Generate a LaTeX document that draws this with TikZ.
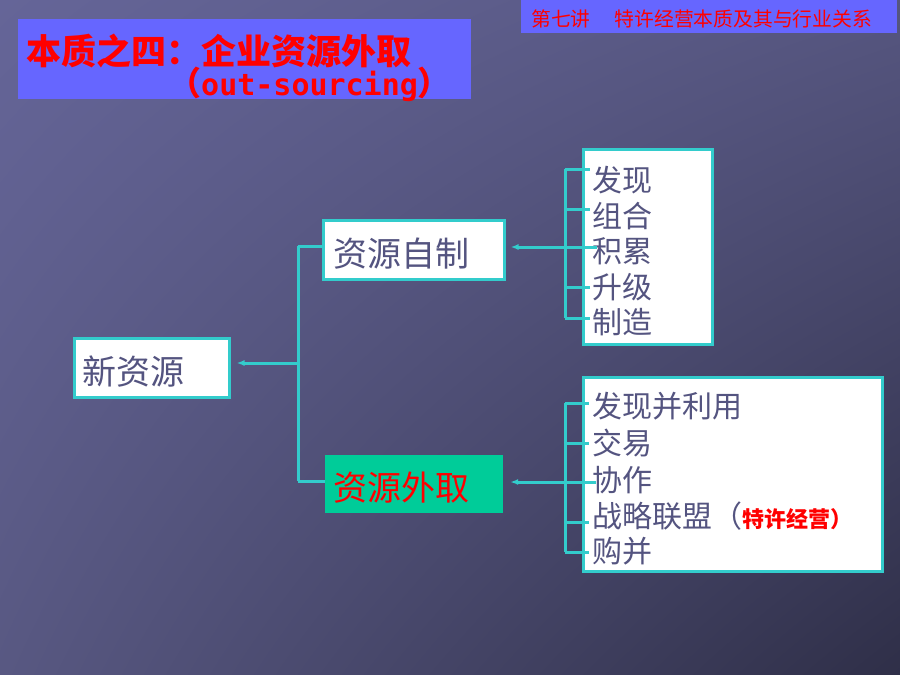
\documentclass[tikz,border=0pt]{standalone}
\usepackage{fontspec}
\newfontfamily\cjk{Noto Sans CJK SC}
\newfontfamily\mono{DejaVu Sans Mono}
\usetikzlibrary{arrows.meta,shadings}
\definecolor{bgTL}{RGB}{101,101,152}
\definecolor{bgTR}{RGB}{86,86,128}
\definecolor{bgBL}{RGB}{88,88,130}
\definecolor{bgBR}{RGB}{47,47,72}
\definecolor{titlebg}{RGB}{102,102,255}
\definecolor{teal}{RGB}{51,204,204}
\definecolor{slate}{RGB}{84,84,128}
\definecolor{greenbox}{RGB}{0,204,153}
\definecolor{redtxt}{RGB}{255,0,0}
\tikzset{
  whitebox/.style={draw=teal, line width=3pt, fill=white, inner sep=0pt},
  greenrect/.style={fill=greenbox, inner sep=0pt},
  bigtxt/.style={font=\cjk\fontsize{34}{40}\selectfont, text=slate, inner sep=0pt, anchor=base west},
  itemtxt/.style={font=\cjk\fontsize{30}{36}\selectfont, text=slate, inner sep=0pt, anchor=base west},
  conn/.style={draw=teal, line width=3pt},
  arr/.style={conn, -{Latex[length=8pt,width=6pt]}},
}
\begin{document}
\begin{tikzpicture}[x=1pt,y=-1pt]
\useasboundingbox (0,0) rectangle (900,675);
\shade[upper left=bgTL, upper right=bgTR, lower left=bgBL, lower right=bgBR] (0,0) rectangle (900,675);
% header
\node[fill=titlebg, minimum width=376pt, minimum height=33pt, inner sep=0pt] (hdr) at (709,16.5) {};
\node[font=\cjk\fontsize{19.8}{24}\selectfont, text=redtxt, inner sep=0pt, anchor=base west] (hdrtxt) at (531,26.5) {第七讲\hspace{24pt}特许经营本质及其与行业关系};
% title
\node[fill=titlebg, minimum width=453pt, minimum height=80pt, inner sep=0pt] (ttl) at (244.5,59) {};
\node[font=\cjk\bfseries\fontsize{35}{40}\selectfont, text=redtxt, inner sep=0pt, anchor=base west] (ttl1) at (26,64) {本质之四：企业资源外取};
\node[font=\cjk\bfseries\fontsize{33}{40}\selectfont, text=redtxt, inner sep=0pt, anchor=base west] (ttl2) at (168,95) {（{\mono\bfseries\fontsize{30}{36}\selectfont out-sourcing}）};
% boxes
\node[whitebox, minimum width=181pt, minimum height=59pt] (zz) at (413.5,249.5) {};
\node[bigtxt] (zztxt) at (333,266) {资源自制};
\node[whitebox, minimum width=155pt, minimum height=59pt] (xzy) at (151.5,367.5) {};
\node[bigtxt] (xzytxt) at (82,384) {新资源};
\node[greenrect, minimum width=178pt, minimum height=58pt] (wq) at (414,484) {};
\node[bigtxt, text=redtxt] (wqtxt) at (333,500) {资源外取};
% list 1
\node[whitebox, minimum width=129pt, minimum height=195pt] (l1) at (647.5,246.5) {};
\node[itemtxt] (a1) at (592,191) {发现};
\node[itemtxt] (a2) at (592,227) {组合};
\node[itemtxt] (a3) at (592,262) {积累};
\node[itemtxt] (a4) at (592,298) {升级};
\node[itemtxt] (a5) at (592,333) {制造};
% list 2
\node[whitebox, minimum width=299pt, minimum height=194pt] (l2) at (732.5,474) {};
\node[itemtxt] (b1) at (592,417) {发现并利用};
\node[itemtxt] (b2) at (592,454) {交易};
\node[itemtxt] (b3) at (592,491) {协作};
\node[itemtxt] (b4) at (592,527) {战略联盟（{\bfseries\fontsize{22}{26}\selectfont\color{redtxt}特许经营）}};
\node[itemtxt] (b5) at (592,562) {购并};
% bracket 1
\coordinate (p1) at (565,169); \coordinate (q1) at (590,169);
\coordinate (p2) at (565,209); \coordinate (q2) at (590,209);
\coordinate (p3) at (565,247); \coordinate (q3) at (597,247);
\coordinate (p4) at (565,287); \coordinate (q4) at (590,287);
\coordinate (p5) at (565,318); \coordinate (q5) at (590,318);
\draw[conn] (p1) -- (p5);
\foreach \i in {1,...,5} {\draw[conn] (p\i) -- (q\i);}
\draw[arr, shorten >=5pt] (p3) -- (zz.east |- p3);
% bracket 2
\coordinate (r1) at (565,403); \coordinate (s1) at (589,403);
\coordinate (r2) at (565,443); \coordinate (s2) at (589,443);
\coordinate (r3) at (565,482); \coordinate (s3) at (596,482);
\coordinate (r4) at (565,522); \coordinate (s4) at (589,522);
\coordinate (r5) at (565,552); \coordinate (s5) at (589,552);
\draw[conn] (r1) -- (r5);
\foreach \i in {1,...,5} {\draw[conn] (r\i) -- (s\i);}
\draw[arr, shorten >=7pt] (r3) -- (wq.east |- r3);
% main tree
\coordinate (m1) at (298,246);
\coordinate (m2) at (298,363);
\coordinate (m3) at (298,481);
\draw[conn] (m1) -- (m3);
\draw[conn] (m1) -- (zz.west |- m1);
\draw[conn] (m3) -- (wq.west |- m3);
\draw[arr, shorten >=6pt] (m2) -- (xzy.east |- m2);
\end{tikzpicture}
\end{document}
